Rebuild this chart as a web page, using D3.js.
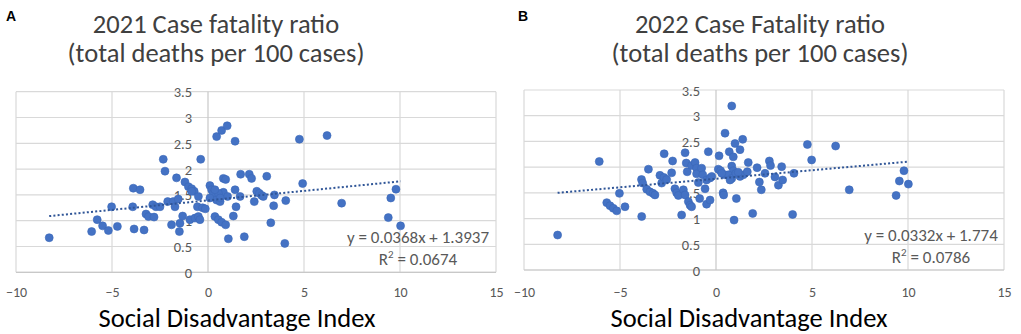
<!DOCTYPE html>
<html>
<head>
<meta charset="utf-8">
<script src="https://cdn.jsdelivr.net/npm/d3@7"></script>
<style>
  html, body { margin: 0; padding: 0; background: #ffffff; }
  svg { display: block; }
</style>
</head>
<body>
<svg id="chart" width="1021" height="334"></svg>
<script>
// ---------- data ----------
const panelLetters = ["A", "B"];
const titleLine1 = ["2021 Case fatality ratio", "2022 Case Fatality ratio"];
const titleLine2 = ["(total deaths per 100 cases)", "(total deaths per 100 cases)"];
const xAxisTitle = "Social Disadvantage Index";
const xTicks = [-10, -5, 0, 5, 10, 15];
const yTicks = [0, 0.5, 1, 1.5, 2, 2.5, 3, 3.5];

const sdiA = [-8.27, -6.06, -5.77, -5.49, -5.19, -5.02, -4.72, -3.89, -3.54, -3.92, -3.85, -3.33,
  -3.23, -3.10, -2.81, -2.88, -2.71, -2.50, -2.33, -2.24, -2.10, -1.90, -1.81, -1.72, -1.55,
  -1.64, -1.46, -1.49, -1.32, -1.20, -1.02, -0.85, -0.72, -0.94, -0.68, -0.50, -0.42, -0.50,
  -0.55, -0.38, -0.28, -0.14, 0.10, 0.19, 0.28, 0.10, 0.45, 0.71, 1.00, 1.41, 0.36, 0.54,
  0.71, 0.92, 0.80, 0.92, 0.45, 0.63, 0.80, 0.54, 1.02, 1.06, 1.41, 1.46, 1.32, 1.67, 1.70,
  1.89, 2.15, 2.27, 2.41, 2.54, 2.67, 2.80, 2.88, 3.06, 3.46, 3.42, 3.27, 4.05, 4.00, 4.76,
  4.93, 6.20, 6.96, 9.39, 9.52, 9.79, 10.03, 0.36, 0.63, -0.85];
const cfrA = [0.67, 0.79, 1.02, 0.90, 0.81, 1.27, 0.89, 1.63, 1.60, 1.27, 0.84, 0.82,
  1.13, 1.08, 1.07, 1.31, 1.27, 1.27, 2.19, 1.96, 1.37, 0.92, 1.37, 1.27, 1.42,
  1.83, 0.95, 0.79, 1.09, 1.75, 1.66, 1.62, 1.57, 1.02, 1.05, 1.08, 1.02, 1.47,
  1.27, 2.19, 1.25, 1.23, 1.68, 1.60, 1.53, 1.44, 2.63, 2.75, 2.84, 2.54, 1.08, 1.02,
  0.97, 0.92, 1.82, 1.80, 1.40, 1.37, 1.55, 1.53, 1.47, 0.65, 1.60, 1.27, 1.09, 1.47, 1.90,
  0.69, 1.90, 1.82, 1.37, 1.57, 1.53, 1.49, 1.47, 1.86, 1.50, 1.29, 0.96, 1.39, 0.56, 2.58,
  1.72, 2.65, 1.34, 1.06, 1.44, 1.61, 0.90, 1.60, 1.44, 1.57];

const sdiB = [-8.25, -6.08, -5.69, -5.52, -5.35, -5.17, -5.03, -4.74, -3.87, -3.88, -3.82, -3.52,
  -3.61, -3.44, -3.28, -3.18, -2.92, -2.83, -2.71, -2.57, -2.70, -2.26, -2.31, -2.14, -2.05,
  -1.96, -1.79, -1.61, -1.55, -1.50, -1.70, -1.61, -1.44, -1.35, -1.27, -1.27, -1.09, -1.01,
  -1.01, -0.92, -0.85, -0.75, -0.69, -0.57, -0.49, -0.31, -0.22, -0.40, -0.49, -0.31, 0.16,
  0.12, 0.24, 0.47, 0.82, 0.37, 0.40, 0.94, 1.06, 0.69, 0.82, 0.90, 0.90, 0.99, 1.25, 1.39,
  0.47, 0.64, 0.82, 1.04, 1.25, 1.42, 1.63, 1.68, 1.91, 2.14, 2.26, 2.36, 2.55, 2.78, 2.84,
  3.07, 3.25, 3.47, 3.42, 3.99, 4.06, 4.76, 4.98, 6.23, 6.94, 9.38, 9.55, 9.79, 10.02, 0.73,
  0.30, 1.16];
const cfrB = [0.68, 2.11, 1.31, 1.25, 1.20, 1.15, 1.49, 1.23, 1.04, 1.76, 1.69, 1.96,
  1.57, 1.52, 1.49, 1.46, 1.84, 1.69, 1.80, 1.76, 2.26, 2.12, 1.89, 1.58, 1.50,
  1.45, 1.07, 2.28, 2.08, 1.91, 1.56, 1.46, 1.33, 1.26, 1.23, 2.03, 2.09, 1.98,
  1.87, 1.70, 1.39, 1.98, 1.85, 1.58, 1.75, 1.79, 1.82, 2.30, 1.28, 1.36, 2.22,
  1.96, 1.93, 2.66, 3.19, 1.50, 1.46, 0.97, 1.39, 2.30, 2.02, 1.93, 2.20, 2.46, 2.34, 2.54,
  1.85, 1.85, 1.78, 1.88, 1.82, 1.85, 1.91, 2.09, 1.10, 1.99, 1.71, 1.56, 1.88, 2.12, 2.03,
  1.81, 1.65, 1.75, 2.01, 1.08, 1.88, 2.44, 2.14, 2.41, 1.56, 1.45, 1.73, 1.93, 1.67, 1.75,
  1.88, 1.90];

const slopes = [0.0368, 0.0332];
const intercepts = [1.3937, 1.774];
const eqLabels = ["y = 0.0368x + 1.3937", "y = 0.0332x + 1.774"];
const r2Values = ["0.0674", "0.0786"];

// ---------- layout ----------
const panels = [
  { left: 16, right: 496, top: 91.7, bottom: 272.3, titleX: 216, letterX: 6, eqX: 418, axisTitleX: 237, xs: sdiA, ys: cfrA },
  { left: 524, right: 1004, top: 90, bottom: 270, titleX: 760, letterX: 518, eqX: 931, axisTitleX: 749, xs: sdiB, ys: cfrB }
];

const FONT = "Carlito, Lato, 'Open Sans', sans-serif";
const svg = d3.select("#chart");

panels.forEach((p, i) => {
  const x = d3.scaleLinear().domain([-10, 15]).range([p.left, p.right]);
  const y = d3.scaleLinear().domain([0, 3.5]).range([p.bottom, p.top]);
  const g = svg.append("g");

  // panel letter
  g.append("text").attr("x", p.letterX).attr("y", 21)
    .attr("font-family", "'Liberation Sans', Arial, sans-serif")
    .attr("font-weight", "bold").attr("font-size", 14).attr("fill", "#000")
    .text(panelLetters[i]);

  // titles
  g.append("text").attr("x", p.titleX).attr("y", 33).attr("text-anchor", "middle")
    .attr("font-family", FONT).attr("font-size", 26.5).attr("fill", "#404040")
    .text(titleLine1[i]);
  g.append("text").attr("x", p.titleX).attr("y", 62).attr("text-anchor", "middle")
    .attr("font-family", FONT).attr("font-size", 26.5).attr("fill", "#404040")
    .text(titleLine2[i]);

  // gridlines
  g.append("g").selectAll("line").data(yTicks).join("line")
    .attr("x1", p.left).attr("x2", p.right)
    .attr("y1", d => y(d)).attr("y2", d => y(d))
    .attr("stroke", "#d9d9d9").attr("stroke-width", 1.2);
  g.append("g").selectAll("line").data(xTicks).join("line")
    .attr("y1", p.top).attr("y2", p.bottom)
    .attr("x1", d => x(d)).attr("x2", d => x(d))
    .attr("stroke", d => d === 0 ? "#c8c8c8" : "#d9d9d9").attr("stroke-width", 1.2);
  g.append("line").attr("x1", p.left).attr("x2", p.right)
    .attr("y1", y(0)).attr("y2", y(0)).attr("stroke", "#c8c8c8").attr("stroke-width", 1.2);

  // x axis tick labels
  const xAxis = d3.axisBottom(x).tickValues(xTicks).tickSize(0).tickPadding(0)
    .tickFormat(d3.format("d"));
  const xg = g.append("g").attr("transform", `translate(0,${p.bottom})`).call(xAxis);
  xg.select(".domain").remove();
  xg.selectAll("text").attr("y", 297 - p.bottom).attr("dy", null)
    .attr("font-family", FONT).attr("font-size", 14).attr("fill", "#595959");

  // y axis tick labels (at x = 0, labels on the left)
  const yAxis = d3.axisLeft(y).tickValues(yTicks).tickSize(0).tickPadding(16)
    .tickFormat(d => d3.format("")(d));
  const yg = g.append("g").attr("transform", `translate(${x(0)},0)`).call(yAxis);
  yg.select(".domain").remove();
  yg.selectAll("text").attr("font-family", FONT).attr("font-size", 14.5)
    .attr("fill", "#595959").attr("dy", "0.35em");

  // points
  const pts = p.xs.map((v, k) => [v, p.ys[k]]);
  g.append("g").selectAll("circle").data(pts).join("circle")
    .attr("cx", d => x(d[0])).attr("cy", d => y(d[1])).attr("r", 4)
    .attr("fill", "#4472c4").attr("stroke", "#3b68b8").attr("stroke-width", 0.6);

  // trendline
  const ext = d3.extent(p.xs);
  const line = d3.line().x(d => x(d)).y(d => y(slopes[i] * d + intercepts[i]));
  g.append("path").datum(ext).attr("d", line).attr("fill", "none")
    .attr("stroke", "#2f5597").attr("stroke-width", 2).attr("stroke-dasharray", "2,2.2");

  // equation labels
  g.append("text").attr("x", p.eqX).attr("y", y(0) - 29).attr("text-anchor", "middle")
    .attr("font-family", FONT).attr("font-size", 17).attr("fill", "#595959")
    .text(eqLabels[i]);
  const r2 = g.append("text").attr("x", p.eqX).attr("y", y(0) - 7).attr("text-anchor", "middle")
    .attr("font-family", FONT).attr("font-size", 17).attr("fill", "#595959");
  r2.append("tspan").text("R");
  r2.append("tspan").attr("dy", -7).attr("font-size", 11).text("2");
  r2.append("tspan").attr("dy", 7).text(" = " + r2Values[i]);

  // axis title
  g.append("text").attr("x", p.axisTitleX).attr("y", 326.5).attr("text-anchor", "middle")
    .attr("font-family", FONT).attr("font-size", 26.5).attr("fill", "#000")
    .text(xAxisTitle);
});
</script>
</body>
</html>
